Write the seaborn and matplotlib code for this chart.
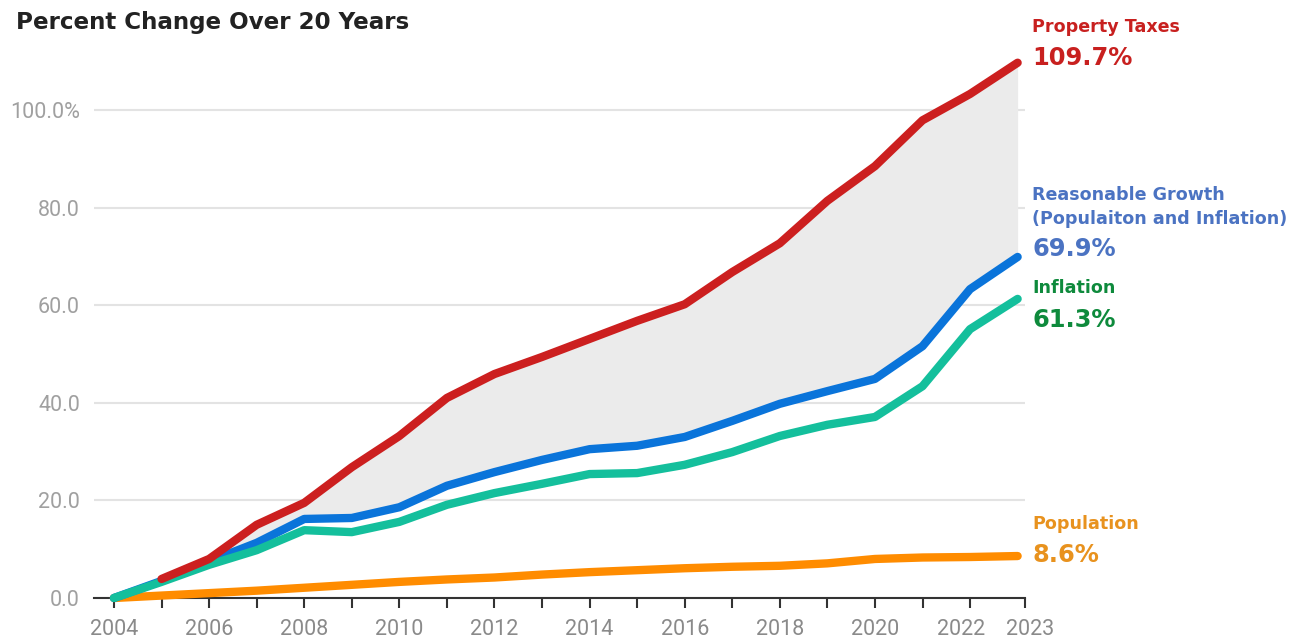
import matplotlib
matplotlib.use("Agg")
import matplotlib.pyplot as plt
import matplotlib.transforms as mtransforms
import seaborn as sns
import pandas as pd
import numpy as np

# Cumulative percent change since 2004
years = list(range(2004, 2024))
property_taxes = [np.nan, 3.9, 8.0, 15.0, 19.5, 26.8, 33.2, 41.0, 45.9, 49.4,
                  53.1, 56.8, 60.2, 66.8, 72.7, 81.4, 88.5, 97.9, 103.3, 109.7]
reasonable_growth = [0.0, 3.5, 7.5, 11.3, 16.2, 16.4, 18.6, 23.0, 25.8, 28.3,
                     30.5, 31.2, 33.0, 36.3, 39.8, 42.4, 44.9, 51.6, 63.3, 69.9]
inflation = [0.0, 3.3, 6.8, 9.8, 13.9, 13.5, 15.6, 19.1, 21.5, 23.4,
             25.4, 25.6, 27.3, 29.9, 33.2, 35.5, 37.1, 43.4, 55.1, 61.3]
population = [0.0, 0.5, 1.0, 1.5, 2.1, 2.7, 3.3, 3.8, 4.2, 4.8,
              5.3, 5.7, 6.1, 6.4, 6.6, 7.1, 8.0, 8.3, 8.4, 8.6]

series_names = ["Population", "Reasonable Growth", "Inflation", "Property Taxes"]
line_colors = {"Population": "#FF8C00", "Reasonable Growth": "#0A74DA",
               "Inflation": "#14BF9C", "Property Taxes": "#CC1F1F"}

y_ticks = [0, 20, 40, 60, 80, 100]
y_tick_labels = ["0.0", "20.0", "40.0", "60.0", "80.0", "100.0%"]
x_tick_years = [2004, 2006, 2008, 2010, 2012, 2014, 2016, 2018, 2020, 2022]

df = pd.DataFrame({
    "Year": years * 4,
    "Change": population + reasonable_growth + inflation + property_taxes,
    "Series": (["Population"] * 20 + ["Reasonable Growth"] * 20
               + ["Inflation"] * 20 + ["Property Taxes"] * 20),
})

sns.set_style("white")
plt.rcParams["font.family"] = ["DejaVu Sans"]

W, H = 1306, 643
fig = plt.figure(figsize=(W / 100, H / 100), dpi=100)
ax = fig.add_axes([94 / W, 1 - 598 / H, 931 / W, (598 - 51.5) / H])

# Gap between property taxes and reasonable growth
ax.fill_between(years[1:], property_taxes[1:], reasonable_growth[1:],
                color="#EBEBEB", lw=0, zorder=1)

for name in series_names:
    sub = df[df["Series"] == name].dropna()
    sns.lineplot(data=sub, x="Year", y="Change", ax=ax, color=line_colors[name],
                 linewidth=6, solid_capstyle="round", clip_on=False, zorder=3,
                 legend=False)

x_min, x_max = 2003.58, 2023.155
ax.set_xlim(x_min, x_max)
ax.set_ylim(0, 112)
ax.set_xlabel("")
ax.set_ylabel("")

ax.set_yticks(y_ticks)
ax.set_yticklabels(y_tick_labels, fontfamily="Roboto", fontsize=15.5, color="#A0A0A0")
ax.yaxis.grid(True, color="#E3E3E3", linewidth=1.5)
ax.set_axisbelow(True)
ax.tick_params(axis="y", length=0, pad=10)

# yearly minor ticks, labelled ticks every two years plus the axis end
ax.set_xticks(years[:-1], minor=True)
major = x_tick_years + [x_max]
ax.set_xticks(major)
ax.set_xticklabels([str(y) for y in x_tick_years] + ["2023"], fontfamily="Roboto",
                   fontsize=15.5, color="#8A8A8A")
ax.tick_params(axis="x", which="both", bottom=True, direction="out", length=7,
               width=1.5, color="#333333", pad=8)

labels = ax.get_xticklabels()
for lab, dx in [(labels[-2], -9.5), (labels[-1], 5)]:
    lab.set_transform(lab.get_transform()
                      + mtransforms.ScaledTranslation(dx / 100, 0, fig.dpi_scale_trans))

for side in ["top", "right", "left"]:
    ax.spines[side].set_visible(False)
ax.spines["bottom"].set_color("#333333")
ax.spines["bottom"].set_linewidth(1.5)
ax.spines["bottom"].set_zorder(2)

fig.text(16 / W, 1 - 22 / H, "Percent Change Over 20 Years", fontsize=16.6,
         fontweight="bold", color="#222222", va="center", ha="left")


def label(px, py, text, color, size, weight):
    fig.text(px / W, 1 - py / H, text, fontsize=size, fontweight=weight,
             color=color, va="center", ha="left")


lx = 1032
label(lx, 27, "Property Taxes", "#C8201F", 12.6, "bold")
label(lx, 58, "109.7%", "#C8201F", 17.4, "bold")
label(lx, 195, "Reasonable Growth", "#4B73C2", 12.6, "bold")
label(lx, 219, "(Populaiton and Inflation)", "#4B73C2", 12.6, "bold")
label(lx, 249, "69.9%", "#4B73C2", 17.4, "bold")
label(lx, 288, "Inflation", "#0E8A3C", 12.6, "bold")
label(lx, 320, "61.3%", "#0E8A3C", 17.4, "bold")
label(lx, 524, "Population", "#E8921E", 12.6, "bold")
label(lx, 555, "8.6%", "#E8921E", 17.4, "bold")

fig.savefig("out.png", dpi=100, facecolor="white")
